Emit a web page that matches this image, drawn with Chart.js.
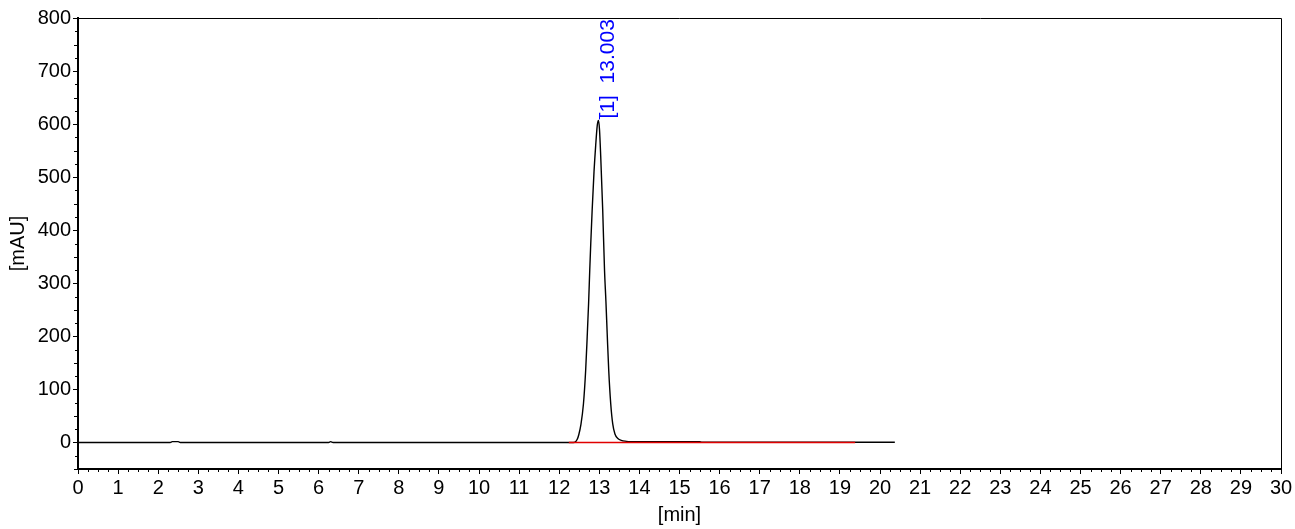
<!DOCTYPE html>
<html>
<head>
<meta charset="utf-8">
<script src="https://cdn.jsdelivr.net/npm/chart.js@4.4.1/dist/chart.umd.min.js"></script>
<style>
  html, body { margin: 0; padding: 0; background: #fff; }
  #wrap { width: 1295px; height: 529px; position: relative; }
</style>
</head>
<body>
<div id="wrap"><canvas id="c"></canvas></div>
<script>
// ---- data ----
const timeMin = [0, 2.30, 2.35, 2.50, 2.55, 6.25, 6.30, 6.36, 12.30, 12.39, 12.45, 12.49, 12.54, 12.605, 12.66, 12.698, 12.733, 12.762, 12.787, 12.822, 12.868, 12.91, 12.95, 12.98, 13.005, 13.035, 13.085, 13.13, 13.165, 13.198, 13.235, 13.285, 13.335, 13.39, 13.47, 13.55, 13.64, 13.80, 15.50, 15.56, 20.37];
const signalMAU = [0, 0, 1.5, 1.5, 0, 0, 1.5, 0, 0, 0.5, 6, 15, 33, 73, 136, 199, 262, 325, 375, 438, 510, 560, 598, 607, 590, 540, 438, 325, 266, 203, 136, 73, 35, 16, 7, 4, 2.5, 1.5, 1.5, 0.5, 0.5];
const baselineTime = [12.24, 19.38];
const baselineMAU = [0, 0];
const peakTime = 13.003;
const peakHeight = 607;
const peakLabel = "[1]  13.003";
const xTicks = [0,1,2,3,4,5,6,7,8,9,10,11,12,13,14,15,16,17,18,19,20,21,22,23,24,25,26,27,28,29,30];
const yTicks = [0,100,200,300,400,500,600,700,800];
const xTitle = "[min]";
const yTitle = "[mAU]";

const FONT = "'Liberation Sans', Arial, sans-serif";

const tracePts = timeMin.map((t, i) => ({x: t, y: signalMAU[i]}));
const basePts = baselineTime.map((t, i) => ({x: t, y: baselineMAU[i]}));

const frameAndMinor = {
  id: 'frameAndMinor',
  afterDraw(chart) {
    const {ctx, chartArea: a, scales: {x, y}} = chart;
    ctx.save();
    ctx.strokeStyle = '#000';
    ctx.lineWidth = 1;
    // top & right frame
    ctx.beginPath();
    ctx.moveTo(a.left, a.top + 0.5); ctx.lineTo(a.right + 0.5, a.top + 0.5);
    ctx.lineTo(a.right + 0.5, a.bottom);
    ctx.stroke();
    // minor ticks y
    ctx.beginPath();
    for (let v = -50; v <= 800; v += 25) {
      if (v % 100 === 0) continue;
      const py = Math.round(y.getPixelForValue(v)) + 0.5;
      const len = (v % 50 === 0) ? 3 : 2;
      ctx.moveTo(a.left - 1, py); ctx.lineTo(a.left - 1 - len, py);
    }
    // minor ticks x
    for (let t = 0; t <= 30; t += 0.25) {
      if (Math.abs(t - Math.round(t)) < 1e-6) continue;
      const px = Math.round(x.getPixelForValue(t)) + 0.5;
      ctx.moveTo(px, a.bottom + 1); ctx.lineTo(px, a.bottom + 3);
    }
    ctx.stroke();
    // peak label
    const px = x.getPixelForValue(peakTime);
    const py = y.getPixelForValue(peakHeight);
    ctx.strokeStyle = '#0000ff';
    ctx.beginPath();
    ctx.moveTo(Math.round(px) + 0.5, py - 1); ctx.lineTo(Math.round(px) + 0.5, py - 4);
    ctx.stroke();
    ctx.translate(px + 9, py - 2);
    ctx.rotate(-Math.PI / 2);
    ctx.fillStyle = '#0000ff';
    ctx.font = "21px " + FONT;
    ctx.textAlign = 'left';
    ctx.textBaseline = 'middle';
    ctx.fillText(peakLabel, 0, 0);
    ctx.restore();
  }
};

new Chart(document.getElementById('c'), {
  type: 'line',
  data: {
    datasets: [
      { data: tracePts, borderColor: '#000', borderWidth: 1.4, pointRadius: 0, cubicInterpolationMode: 'monotone', fill: false, order: 2 },
      { data: basePts, borderColor: '#e00000', borderWidth: 1.6, pointRadius: 0, fill: false, order: 1 }
    ]
  },
  options: {
    responsive: true,
    maintainAspectRatio: false,
    animation: false,
    events: [],
    layout: { padding: { top: 18, right: 14, left: 0, bottom: 0 } },
    plugins: { legend: { display: false }, tooltip: { enabled: false } },
    scales: {
      x: {
        type: 'linear', min: 0, max: 30,
        afterFit: s => { s.height = 60; },
        afterBuildTicks: s => { s.ticks = xTicks.map(v => ({value: v})); },
        grid: { drawOnChartArea: false, drawTicks: true, tickLength: 5, color: '#000', tickWidth: 1 },
        border: { display: true, color: '#000', width: 2 },
        ticks: { color: '#000', font: { family: FONT, size: 20 }, padding: 2, maxRotation: 0, autoSkip: false },
        title: { display: true, text: xTitle, color: '#000', font: { family: FONT, size: 20 }, padding: { top: 0, bottom: 2 } }
      },
      y: {
        type: 'linear', min: -50, max: 800,
        afterFit: s => { s.width = 78; },
        afterBuildTicks: s => { s.ticks = yTicks.map(v => ({value: v})); },
        grid: { drawOnChartArea: false, drawTicks: true, tickLength: 5, color: '#000', tickWidth: 1 },
        border: { display: true, color: '#000', width: 2 },
        ticks: { color: '#000', font: { family: FONT, size: 20 }, padding: 2, autoSkip: false },
        title: { display: true, text: yTitle, color: '#000', font: { family: FONT, size: 20 }, padding: { top: 6, bottom: 0 } }
      }
    }
  },
  plugins: [frameAndMinor]
});
</script>
</body>
</html>
